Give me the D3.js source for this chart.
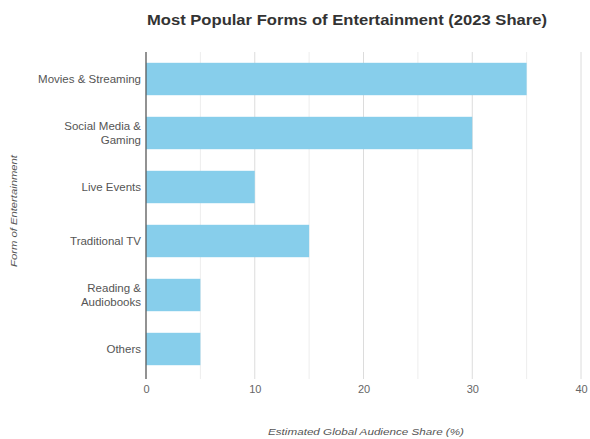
<!DOCTYPE html>
<html>
<head>
<meta charset="utf-8">
<script src="https://cdn.jsdelivr.net/npm/d3@7"></script>
<style>
  body { margin: 0; background: #fff; }
  text { font-family: "Liberation Sans", Arial, sans-serif; }
</style>
</head>
<body>
<div id="chart"></div>
<script>
// chart data
const categories = ["Movies & Streaming", "Social Media & Gaming", "Live Events", "Traditional TV", "Reading & Audiobooks", "Others"];
const shares = [35, 30, 10, 15, 5, 5];
const xTicks = [0, 10, 20, 30, 40];
const gridTicks = [0, 5, 10, 15, 20, 25, 30, 35, 40];

const svg = d3.select("#chart")
  .append("svg")
  .attr("width", 590)
  .attr("height", 439);

const plotLeft = 146, plotRight = 581, plotTop = 52, plotBottom = 376;

const xScale = d3.scaleLinear().domain([0, 40]).range([plotLeft, plotRight]);
const yScale = d3.scaleBand().domain(categories).range([plotTop, plotBottom]).paddingInner(0.4).paddingOuter(0.2);

// gridlines
svg.append("g")
  .selectAll("line")
  .data(gridTicks)
  .join("line")
  .attr("x1", d => xScale(d))
  .attr("x2", d => xScale(d))
  .attr("y1", plotTop)
  .attr("y2", plotBottom + 3)
  .attr("stroke", d => d % 10 === 0 ? "#dcdcdc" : "#ededed")
  .attr("stroke-width", 1);

// bars
svg.append("g")
  .selectAll("rect")
  .data(categories)
  .join("rect")
  .attr("x", xScale(0))
  .attr("y", d => yScale(d))
  .attr("width", (d, i) => xScale(shares[i]) - xScale(0))
  .attr("height", yScale.bandwidth())
  .attr("fill", "#87ceeb");

// x axis tick labels
const xAxis = d3.axisBottom(xScale).tickValues(xTicks).tickSize(0).tickPadding(6);
const gx = svg.append("g")
  .attr("transform", "translate(0," + (plotBottom + 3) + ")")
  .call(xAxis);
gx.select(".domain").remove();
gx.selectAll("text").attr("fill", "#666").attr("font-size", 11);

// y axis
const yAxis = d3.axisLeft(yScale).tickSize(0).tickPadding(5);
const gy = svg.append("g")
  .attr("transform", "translate(" + plotLeft + ",0)")
  .call(yAxis);
gy.select(".domain").remove();
gy.selectAll("text")
  .attr("fill", "#555")
  .attr("font-size", 11.5)
  .each(function (d) {
    const t = d3.select(this);
    const words = d.split(" ");
    const lines = [];
    let cur = "";
    words.forEach(w => {
      const test = cur ? cur + " " + w : w;
      if (test.length > 18 && cur) { lines.push(cur); cur = w; } else { cur = test; }
    });
    lines.push(cur);
    if (lines.length > 1) {
      t.text(null);
      lines.forEach((ln, i) => {
        t.append("tspan")
          .attr("x", -5)
          .attr("dy", i === 0 ? (-(lines.length - 1) * 0.6 + 0.32) + "em" : "1.2em")
          .text(ln);
      });
      t.attr("dy", null);
    }
  });

svg.append("line")
  .attr("x1", plotLeft).attr("x2", plotLeft)
  .attr("y1", plotTop).attr("y2", plotBottom + 3)
  .attr("stroke", "#555")
  .attr("stroke-width", 1.2);

// title
svg.append("text")
  .attr("x", 347)
  .attr("y", 25)
  .attr("text-anchor", "middle")
  .attr("font-size", 14)
  .attr("font-weight", "bold")
  .attr("fill", "#333")
  .attr("textLength", 400)
  .attr("lengthAdjust", "spacingAndGlyphs")
  .text("Most Popular Forms of Entertainment (2023 Share)");

// axis titles
svg.append("text")
  .attr("x", 366)
  .attr("y", 435)
  .attr("text-anchor", "middle")
  .attr("font-size", 9)
  .attr("font-style", "italic")
  .attr("fill", "#555")
  .attr("textLength", 196)
  .attr("lengthAdjust", "spacingAndGlyphs")
  .text("Estimated Global Audience Share (%)");

svg.append("text")
  .attr("transform", "translate(17,211) rotate(-90)")
  .attr("text-anchor", "middle")
  .attr("font-size", 9)
  .attr("font-style", "italic")
  .attr("fill", "#555")
  .attr("textLength", 112)
  .attr("lengthAdjust", "spacingAndGlyphs")
  .text("Form of Entertainment");
</script>
</body>
</html>
